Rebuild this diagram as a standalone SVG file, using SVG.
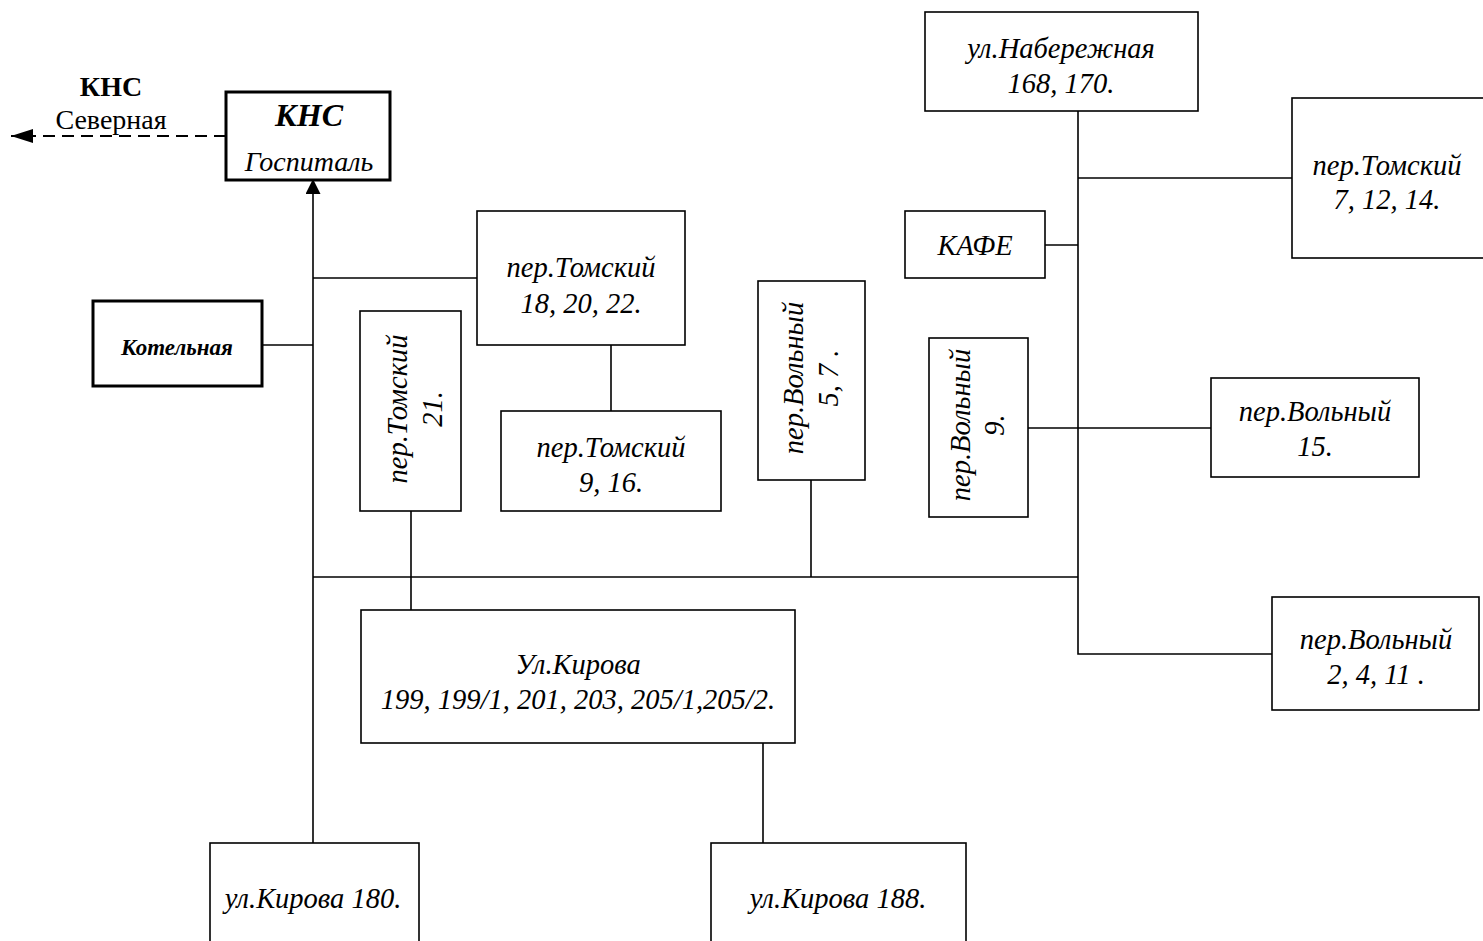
<svg xmlns="http://www.w3.org/2000/svg" width="1483" height="941" viewBox="0 0 1483 941">
  <style>
    .box { fill: #fff; stroke: #000; stroke-width: 1.6; }
    .thick { fill: #fff; stroke: #000; stroke-width: 3; }
    .wire { fill: none; stroke: #000; stroke-width: 1.6; }
    .dash { fill: none; stroke: #000; stroke-width: 2; stroke-dasharray: 12 7; }
    text { font-family: "Liberation Serif", "Times New Roman", serif; fill: #000; }
    .lbl { font-size: 28.5px; font-style: italic; text-anchor: middle; }
    .plain { font-size: 28px; text-anchor: middle; }
  </style>
  <defs>
    <marker id="arrow" viewBox="0 0 15 15" refX="15" refY="7.5" markerWidth="15" markerHeight="15" markerUnits="userSpaceOnUse" orient="auto">
      <path d="M0,0 L15,7.5 L0,15 z" fill="#000"/>
    </marker>
    <marker id="arrowL" viewBox="0 0 22 14" refX="22" refY="7" markerWidth="22" markerHeight="14" markerUnits="userSpaceOnUse" orient="auto">
      <path d="M0,0 L22,7 L0,14 z" fill="#000"/>
    </marker>
  </defs>

  <!-- connecting pipes -->
  <g id="connectors">
    <path class="dash" d="M226,136 L11,136" marker-end="url(#arrowL)"/>
    <path class="wire" d="M313,843 L313,179" marker-end="url(#arrow)"/>
    <path class="wire" d="M313,278 L477,278"/>
    <path class="wire" d="M611,345 L611,411"/>
    <path class="wire" d="M262,345 L313,345"/>
    <path class="wire" d="M411,511 L411,610"/>
    <path class="wire" d="M313,577 L1078,577"/>
    <path class="wire" d="M811,480 L811,577"/>
    <path class="wire" d="M763,743 L763,843"/>
    <path class="wire" d="M1078,111 L1078,654 L1272,654"/>
    <path class="wire" d="M1078,178 L1292,178"/>
    <path class="wire" d="M1045,245 L1078,245"/>
    <path class="wire" d="M1028,428 L1211,428"/>
  </g>

  <!-- outgoing label -->
  <g id="kns-severnaya">
    <text x="111" y="96" font-size="28" font-weight="bold" text-anchor="middle">КНС</text>
    <text class="plain" x="111" y="129">Северная</text>
  </g>

  <g id="kns-gospital">
    <rect class="thick" x="226" y="92" width="164" height="88"/>
    <text x="309" y="126" font-size="32" font-weight="bold" font-style="italic" text-anchor="middle">КНС</text>
    <text x="309" y="171" font-size="28" font-style="italic" text-anchor="middle">Госпиталь</text>
  </g>

  <g id="kotelnaya">
    <rect class="thick" x="93" y="301" width="169" height="85"/>
    <text x="177" y="355" font-size="23" font-weight="bold" font-style="italic" text-anchor="middle">Котельная</text>
  </g>

  <g id="tomsky-18">
    <rect class="box" x="477" y="211" width="208" height="134"/>
    <text class="lbl" x="581" y="277">пер.Томский</text>
    <text class="lbl" x="581" y="313">18, 20, 22.</text>
  </g>

  <g id="tomsky-9">
    <rect class="box" x="501" y="411" width="220" height="100"/>
    <text class="lbl" x="611" y="457">пер.Томский</text>
    <text class="lbl" x="611" y="492">9, 16.</text>
  </g>

  <g id="tomsky-21">
    <rect class="box" x="360" y="311" width="101" height="200"/>
    <g transform="translate(411,409) rotate(-90)">
      <text class="lbl" x="0" y="-4">пер.Томский</text>
      <text class="lbl" x="0" y="31">21.</text>
    </g>
  </g>

  <g id="volny-5">
    <rect class="box" x="758" y="281" width="107" height="199"/>
    <g transform="translate(811,378) rotate(-90)">
      <text class="lbl" x="0" y="-8">пер.Вольный</text>
      <text class="lbl" x="0" y="27">5, 7 .</text>
    </g>
  </g>

  <g id="kirova-199">
    <rect class="box" x="361" y="610" width="434" height="133"/>
    <text class="lbl" x="578" y="674">Ул.Кирова</text>
    <text class="lbl" x="578" y="709">199, 199/1, 201, 203, 205/1,205/2.</text>
  </g>

  <g id="kirova-180">
    <rect class="box" x="210" y="843" width="209" height="110"/>
    <text class="lbl" x="313" y="908">ул.Кирова 180.</text>
  </g>

  <g id="kirova-188">
    <rect class="box" x="711" y="843" width="255" height="110"/>
    <text class="lbl" x="838" y="908">ул.Кирова 188.</text>
  </g>

  <g id="naberezhnaya">
    <rect class="box" x="925" y="12" width="273" height="99"/>
    <text class="lbl" x="1061" y="58">ул.Набережная</text>
    <text class="lbl" x="1061" y="93">168, 170.</text>
  </g>

  <g id="tomsky-7">
    <rect class="box" x="1292" y="98" width="200" height="160"/>
    <text class="lbl" x="1387" y="175">пер.Томский</text>
    <text class="lbl" x="1387" y="209">7, 12, 14.</text>
  </g>

  <g id="kafe">
    <rect class="box" x="905" y="211" width="140" height="67"/>
    <text class="lbl" x="975" y="255">КАФЕ</text>
  </g>

  <g id="volny-9">
    <rect class="box" x="929" y="338" width="99" height="179"/>
    <g transform="translate(978,425) rotate(-90)">
      <text class="lbl" x="0" y="-8">пер.Вольный</text>
      <text class="lbl" x="0" y="26">9.</text>
    </g>
  </g>

  <g id="volny-15">
    <rect class="box" x="1211" y="378" width="208" height="99"/>
    <text class="lbl" x="1315" y="421">пер.Вольный</text>
    <text class="lbl" x="1315" y="456">15.</text>
  </g>

  <g id="volny-2">
    <rect class="box" x="1272" y="597" width="207" height="113"/>
    <text class="lbl" x="1376" y="649">пер.Вольный</text>
    <text class="lbl" x="1376" y="684">2, 4, 11 .</text>
  </g>
</svg>
